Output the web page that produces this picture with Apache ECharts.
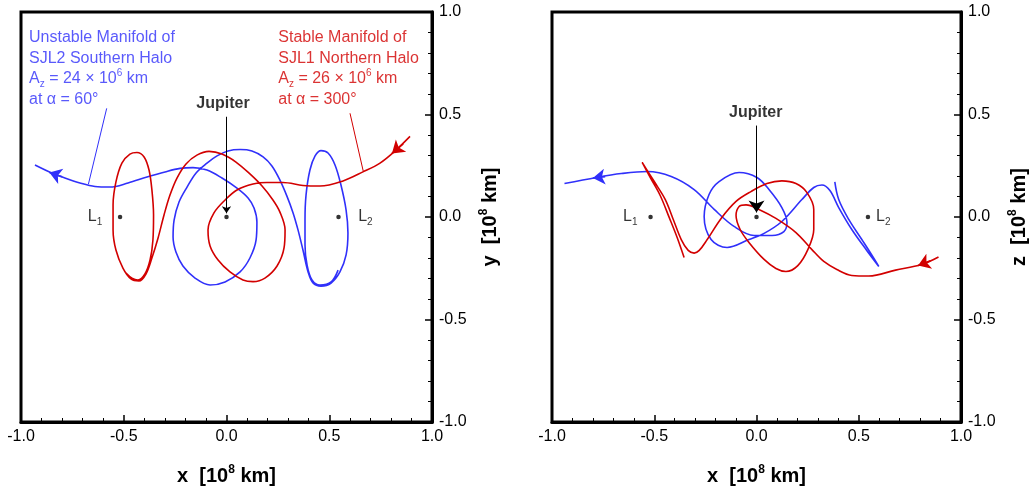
<!DOCTYPE html>
<html>
<head>
<meta charset="utf-8">
<script src="https://cdn.jsdelivr.net/npm/echarts@6/dist/echarts.min.js"></script>
<style>html,body{margin:0;padding:0;background:#fff}#c{width:1030px;height:492px}</style>
</head>
<body>
<div id="c"></div>
<script>
// ---- tick values ----
const axisTicks = [-1.0, -0.5, 0.0, 0.5, 1.0];
// ---- special points ----
const lagrangeX = { L1: -0.518, Jupiter: 0.0, L2: 0.545 };
// ---- left panel (x-y) ----
const blueXY = [[0.543,-0.259],[0.509,-0.317],[0.455,-0.332],[0.416,-0.307],[0.392,-0.234],[0.382,-0.137],[0.382,-0.015],[0.387,0.107],[0.406,0.229],[0.431,0.298],[0.460,0.324],[0.494,0.312],[0.528,0.254],[0.557,0.156],[0.582,0.034],[0.591,-0.078],[0.582,-0.185],[0.552,-0.268],[0.509,-0.322],[0.460,-0.337],[0.421,-0.322],[0.397,-0.268],[0.372,-0.161],[0.348,-0.063],[0.324,0.020],[0.294,0.102],[0.260,0.180],[0.221,0.249],[0.178,0.293],[0.124,0.322],[0.066,0.329],[0.007,0.322],[-0.046,0.298],[-0.095,0.263],[-0.148,0.215],[-0.192,0.146],[-0.231,0.073],[-0.255,-0.015],[-0.260,-0.098],[-0.246,-0.171],[-0.212,-0.239],[-0.153,-0.298],[-0.080,-0.332],[-0.007,-0.317],[0.066,-0.268],[0.114,-0.200],[0.144,-0.112],[0.148,-0.024],[0.134,0.044],[0.105,0.093],[0.051,0.141],[-0.022,0.190],[-0.095,0.229],[-0.163,0.241],[-0.226,0.237],[-0.299,0.220],[-0.387,0.195],[-0.479,0.166],[-0.567,0.146],[-0.640,0.149],[-0.713,0.166],[-0.786,0.190],[-0.844,0.212],[-0.932,0.254]];
const redXY = [[0.893,0.393],[0.820,0.322],[0.747,0.263],[0.664,0.220],[0.567,0.176],[0.455,0.151],[0.372,0.154],[0.275,0.168],[0.197,0.168],[0.129,0.161],[0.051,0.132],[-0.007,0.083],[-0.061,0.020],[-0.090,-0.063],[-0.080,-0.141],[-0.041,-0.210],[0.017,-0.268],[0.080,-0.307],[0.129,-0.315],[0.187,-0.298],[0.246,-0.239],[0.280,-0.151],[0.285,-0.063],[0.260,0.024],[0.226,0.083],[0.173,0.151],[0.114,0.210],[0.046,0.268],[-0.022,0.307],[-0.085,0.320],[-0.144,0.302],[-0.197,0.259],[-0.241,0.190],[-0.275,0.107],[-0.304,0.010],[-0.333,-0.102],[-0.363,-0.200],[-0.392,-0.278],[-0.426,-0.312],[-0.465,-0.302],[-0.504,-0.249],[-0.538,-0.161],[-0.552,-0.063],[-0.552,0.059],[-0.538,0.171],[-0.509,0.263],[-0.470,0.307],[-0.436,0.315],[-0.401,0.293],[-0.377,0.229],[-0.363,0.132],[-0.355,0.010],[-0.358,-0.112],[-0.372,-0.210],[-0.397,-0.278],[-0.431,-0.307],[-0.460,-0.298],[-0.489,-0.273]];
// ---- right panel (x-z) ----
const blueXZ = [[0.383,0.171],[0.402,0.085],[0.451,-0.012],[0.515,-0.110],[0.559,-0.178],[0.598,-0.241],[0.539,-0.163],[0.466,-0.061],[0.402,0.046],[0.359,0.129],[0.320,0.156],[0.280,0.144],[0.222,0.085],[0.124,-0.022],[0.037,-0.080],[-0.037,-0.110],[-0.144,-0.149],[-0.222,-0.110],[-0.256,0.002],[-0.232,0.110],[-0.183,0.173],[-0.085,0.217],[0.002,0.193],[0.061,0.134],[0.124,0.046],[0.149,-0.027],[0.134,-0.071],[0.076,-0.090],[-0.012,-0.090],[-0.110,-0.046],[-0.207,0.037],[-0.305,0.134],[-0.417,0.198],[-0.534,0.222],[-0.661,0.212],[-0.783,0.193],[-0.939,0.163]];
const redXZ = [[0.890,-0.195],[0.807,-0.232],[0.680,-0.259],[0.549,-0.288],[0.466,-0.285],[0.393,-0.256],[0.329,-0.217],[0.271,-0.159],[0.193,-0.076],[0.095,-0.007],[0.012,0.037],[-0.051,0.059],[-0.085,0.051],[-0.100,0.007],[-0.080,-0.061],[-0.037,-0.124],[0.037,-0.207],[0.095,-0.251],[0.144,-0.266],[0.202,-0.237],[0.251,-0.159],[0.280,-0.061],[0.280,0.037],[0.246,0.120],[0.193,0.163],[0.124,0.176],[0.051,0.163],[-0.027,0.124],[-0.100,0.076],[-0.173,-0.007],[-0.241,-0.110],[-0.280,-0.163],[-0.305,-0.176],[-0.334,-0.163],[-0.368,-0.110],[-0.407,-0.012],[-0.446,0.085],[-0.500,0.173],[-0.559,0.266],[-0.520,0.193],[-0.471,0.105],[-0.427,-0.002],[-0.388,-0.100],[-0.354,-0.198]];
// ---- direction arrows on the curves ----
const arrowsLeft = { blue: [[-0.80,0.196],[-0.862,0.217]], red: [[0.86,0.357],[0.805,0.31]] };
const arrowsRight = { blue: [[-0.74,0.197],[-0.80,0.190]], red: [[0.85,-0.214],[0.79,-0.237]] };
// ---- annotation leader lines ----
const blueLeader = [[-0.583,0.53],[-0.672,0.16]];
const redLeader = [[0.601,0.506],[0.666,0.221]];
const jupArrowLeft = [[0,0.489],[0,0.018]];
const jupArrowRight = [[0,0.446],[0,0.022]];
// ---- annotation texts ----
const blueText = ['Unstable Manifold of','SJL2 Southern Halo','24','60°'];
const redText = ['Stable Manifold of','SJL1 Northern Halo','26','300°'];

const BLUE = '#3030fa', RED = '#d20000';
const FF = '"Liberation Sans", Arial, Helvetica, sans-serif';

function richFor(color){
  return {
    n:{fontSize:16,color:color,fontFamily:FF,lineHeight:20.5},
    sub:{fontSize:10,color:color,fontFamily:FF,verticalAlign:'bottom',lineHeight:16},
    sup:{fontSize:10,color:color,fontFamily:FF,verticalAlign:'top',lineHeight:16}
  };
}
function blockText(t){
  return '{n|'+t[0]+'}\n{n|'+t[1]+'}\n{n|A}{sub|z}{n| = '+t[2]+' × 10}{sup|6}{n| km}\n{n|at α = '+t[3]+'}';
}
const nameRich = {
  t:{fontSize:20,fontWeight:'bold',fontFamily:FF,color:'#000',lineHeight:24},
  s:{fontSize:12,fontWeight:'bold',fontFamily:FF,color:'#000',verticalAlign:'top',lineHeight:18}
};
function mkX(i){
  return {type:'value',gridIndex:i,min:axisTicks[0],max:axisTicks[axisTicks.length-1],interval:axisTicks[1]-axisTicks[0],
    axisLine:{show:true,onZero:false,lineStyle:{color:'#000',width:3}},
    axisTick:{show:true,inside:true,length:7,lineStyle:{color:'#000',width:1.5}},
    minorTick:{show:true,splitNumber:5,length:4,lineStyle:{color:'#000',width:1}},
    splitLine:{show:false},minorSplitLine:{show:false},
    axisLabel:{color:'#000',fontSize:16,fontFamily:FF,margin:7,formatter:v=>v.toFixed(1)},
    name:'{t|x  [10}{s|8}{t| km]}',nameLocation:'middle',nameGap:42,nameTextStyle:{color:'#000',rich:nameRich}};
}
function mkY(i,letter){
  return {type:'value',gridIndex:i,position:'right',min:axisTicks[0],max:axisTicks[axisTicks.length-1],interval:axisTicks[1]-axisTicks[0],
    axisLine:{show:true,onZero:false,lineStyle:{color:'#000',width:3}},
    axisTick:{show:true,inside:true,length:7,lineStyle:{color:'#000',width:1.5}},
    minorTick:{show:true,splitNumber:5,length:4,lineStyle:{color:'#000',width:1}},
    splitLine:{show:false},minorSplitLine:{show:false},
    axisLabel:{color:'#000',fontSize:16,fontFamily:FF,margin:7,formatter:v=>v.toFixed(1)},
    name:'{t|'+letter+'  [10}{s|8}{t| km]}',nameLocation:'middle',nameRotate:90,nameGap:46,nameTextStyle:{color:'#000',rich:nameRich}};
}
function curve(data,color,gi){
  return {type:'line',xAxisIndex:gi,yAxisIndex:gi,data:data,showSymbol:false,symbol:'none',smooth:0.35,
    lineStyle:{color:color,width:1.6},silent:true,z:3};
}
function seg(coords,color,gi,width,arrowSize){
  return {type:'lines',coordinateSystem:'cartesian2d',xAxisIndex:gi,yAxisIndex:gi,
    symbol:arrowSize?['none','arrow']:['none','none'],symbolSize:arrowSize?[0,arrowSize]:0,
    lineStyle:{color:color,width:width,opacity:1,curveness:0},itemStyle:{color:color},
    data:[{coords:coords}],silent:true,z:4};
}
function dots(gi){
  return {type:'scatter',xAxisIndex:gi,yAxisIndex:gi,symbolSize:4.5,itemStyle:{color:'#000'},
    data:[[lagrangeX.L1,0],[lagrangeX.Jupiter,0],[lagrangeX.L2,0]],silent:true,z:5};
}
const lRich = {
  n:{fontSize:16,color:'#000',fontFamily:FF,lineHeight:20},
  sub:{fontSize:10,color:'#000',fontFamily:FF,verticalAlign:'bottom',lineHeight:15}
};
function txt(gi,pos,text,rich,position,align){
  return {type:'scatter',xAxisIndex:gi,yAxisIndex:gi,symbolSize:0,silent:true,z:6,
    data:[pos],label:{show:true,color:'#000',position:position||'inside',distance:0,align:align||'center',formatter:text,rich:rich}};
}
const jupRich = {b:{fontSize:16,fontWeight:'bold',color:'#000',fontFamily:FF}};

const option = {
  animation:false,
  backgroundColor:'#fff',
  grid:[
    {left:21,top:12,width:411,height:410,show:true,borderColor:'#000',borderWidth:3,backgroundColor:'transparent'},
    {left:552,top:12,width:410,height:410,show:true,borderColor:'#000',borderWidth:3,backgroundColor:'transparent'}
  ],
  xAxis:[mkX(0),mkX(1)],
  yAxis:[mkY(0,'y'),mkY(1,'z')],
  series:[
    curve(blueXY,BLUE,0), curve(redXY,RED,0),
    curve(blueXZ,BLUE,1), curve(redXZ,RED,1),
    seg(arrowsLeft.blue,BLUE,0,1.6,12), seg(arrowsLeft.red,RED,0,1.6,12),
    seg(arrowsRight.blue,BLUE,1,1.6,12), seg(arrowsRight.red,RED,1,1.6,12),
    seg(blueLeader,BLUE,0,1,0), seg(redLeader,RED,0,1,0),
    seg(jupArrowLeft,'#000',0,1,7), seg(jupArrowRight,'#000',1,1,12),
    dots(0), dots(1),
    txt(0,[-0.961,0.724],blockText(blueText),richFor(BLUE),'right','left'),
    txt(0,[0.252,0.724],blockText(redText),richFor(RED),'right','left'),
    txt(0,[-0.017,0.551],'{b|Jupiter}',jupRich),
    txt(1,[-0.004,0.508],'{b|Jupiter}',jupRich),
    txt(0,[-0.640,0],'{n|L}{sub|1}',lRich),
    txt(0,[0.676,0],'{n|L}{sub|2}',lRich),
    txt(1,[-0.617,0],'{n|L}{sub|1}',lRich),
    txt(1,[0.620,0],'{n|L}{sub|2}',lRich)
  ]
};
const chart = echarts.init(document.getElementById('c'));
chart.setOption(option);
</script>
</body>
</html>
